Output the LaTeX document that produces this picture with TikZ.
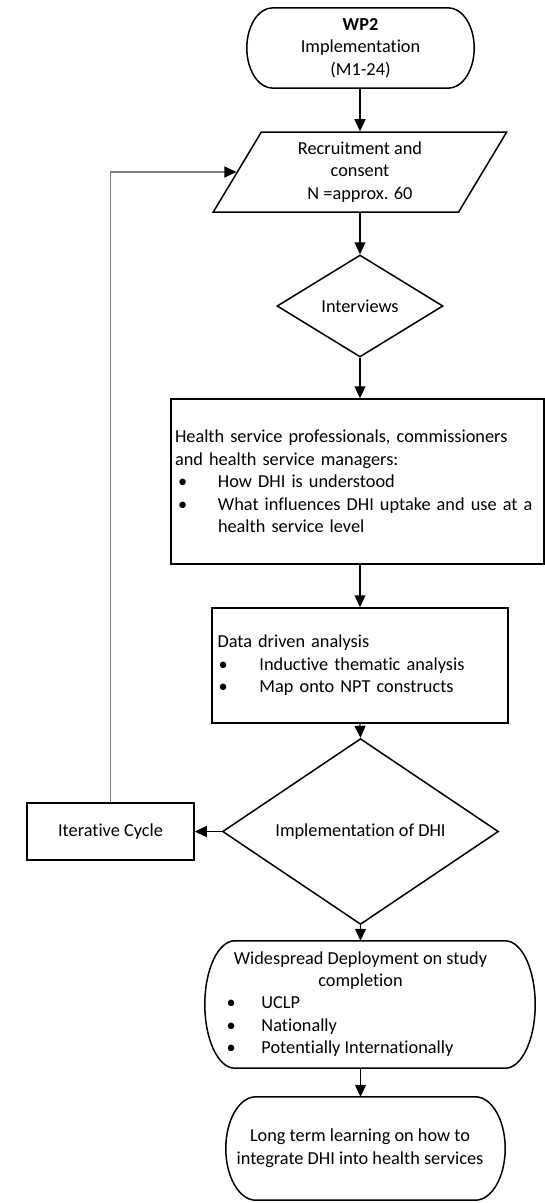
\documentclass[tikz,border=0pt]{standalone}
\usepackage{fontspec}
\setmainfont{Carlito}[RawFeature=-liga]
\usetikzlibrary{shapes.geometric,arrows.meta,calc}

% outline of a terminator node: flat top and bottom, elliptic ends
\newcommand{\termedge}[2]{%
  \draw[line width=1.5pt] let \p1=(#1.north east), \p2=(#1.south west), \n1={(\y1-\y2)/2} in
    (\x2+#2,\y1) -- (\x1-#2,\y1) arc[start angle=90,end angle=-90,x radius=#2,y radius=\n1]
    -- (\x2+#2,\y2) arc[start angle=270,end angle=90,x radius=#2,y radius=\n1] -- cycle;}
\newcommand{\bul}[2]{\makebox[#1][l]{\textbullet}#2}

\begin{document}
\begin{tikzpicture}[x=1pt,y=1pt,>={Triangle[length=12pt,width=11pt]},
  txt/.style={font=\fontsize{18.3}{22.4}\selectfont,inner sep=0pt},
  term/.style={txt,align=center},
  io/.style={txt,draw,line width=1.5pt,trapezium,trapezium left angle=63.4,trapezium right angle=116.6,
    trapezium stretches=true,align=center},
  dec/.style={txt,draw,line width=1.5pt,diamond},
  box/.style={txt,draw,line width=1.5pt,align=left},
  link/.style={line width=1.2pt},
  fb/.style={line width=1.1pt,draw=black!50}]
\useasboundingbox (0,0) rectangle (545,-1203);
% main column
\node[term,minimum width=227pt,minimum height=80pt] (wp) at (360.5,-48)
  {\textbf{WP2}\\Implementation\\(M1-24)};
\termedge{wp}{26pt}
\node[io,minimum width=294pt,minimum height=80pt] (rec) at (360,-172)
  {Recruitment and\\consent\\N =approx. 60};
\node[dec,minimum width=166pt,minimum height=102pt] (int) at (360,-306) {Interviews};
\node[box,minimum width=373pt,minimum height=165pt,text width=365pt,inner xsep=4pt] (hsp) at (357.5,-481.5)
  {Health service professionals, commissioners\\and health service managers:\\
   \hspace*{3pt}\bul{40pt}{How DHI is understood}\\
   \hspace*{3pt}\bul{40pt}{What influences DHI uptake and use at a}\\
   \hspace*{43pt}health service level};
\node[box,minimum width=296pt,minimum height=115pt,text width=285pt,inner xsep=5.5pt] (ana) at (360,-665.5)
  {Data driven analysis\\
   \hspace*{1pt}\bul{41pt}{Inductive thematic analysis}\\
   \hspace*{1pt}\bul{41pt}{Map onto NPT constructs}};
\node[dec,minimum width=276pt,minimum height=106pt] (imp) at (360.5,-831.5) {Implementation of DHI};
\node[box,align=center,minimum width=167pt,minimum height=57pt] (itc) at (110.5,-831.5) {Iterative Cycle};
% end shapes (text sits a little left of their middle)
\node[txt,minimum width=330pt,minimum height=127pt] (dep) at (370,-1004.5)
  {\begin{tabular}{@{}c@{}}Widespread Deployment on study\\completion\\
   \makebox[262pt][l]{\hspace*{-3pt}\bul{35pt}{UCLP}}\\
   \makebox[262pt][l]{\hspace*{-3pt}\bul{35pt}{Nationally}}\\
   \makebox[262pt][l]{\hspace*{-3pt}\bul{35pt}{Potentially Internationally}}\end{tabular}\hspace*{19pt}};
\termedge{dep}{30pt}
\node[txt,minimum width=279pt,minimum height=103pt] (ltl) at (365.5,-1148.5)
  {\begin{tabular}{@{}c@{}}Long term learning on how to\\integrate DHI into health services\end{tabular}\hspace*{11pt}};
\termedge{ltl}{30pt}
% connectors
\draw[link,->] (wp.south -| rec) -- (rec.north -| rec);
\draw[link,->] (rec.south -| rec) -- (int.north);
\draw[link,->] (int.south) -- (int.south |- hsp.north);
\draw[link,->] (int.south |- hsp.south) -- (ana.north);
\draw[link,->] (ana.south) -- (imp.north);
\draw[link,->] (imp.west) -- (itc.east);
\draw[link,->] (imp.south) -- (imp.south |- dep.north);
\draw[link,->] (imp.south |- dep.south) -- (imp.south |- ltl.north);
% feedback loop
\draw[fb,-{Triangle[length=12pt,width=11pt,black]}] (itc.north) |- (rec.west);
\end{tikzpicture}
\end{document}
